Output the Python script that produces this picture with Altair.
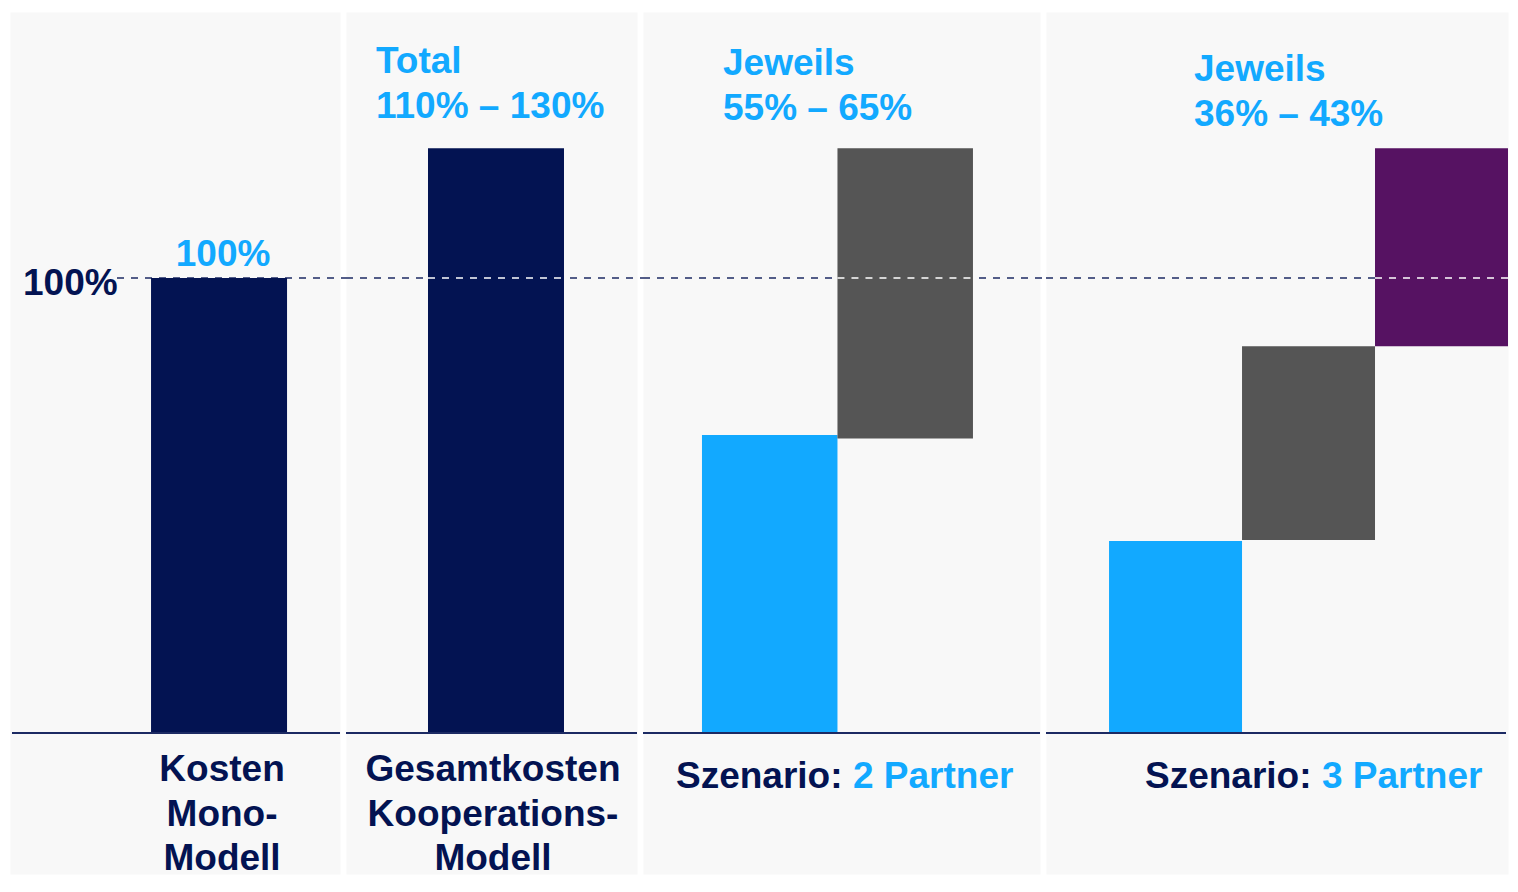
import altair as alt
import pandas as pd

# ---------------- data ----------------
bar_panel = ["mono", "koop", "p2", "p2", "p3", "p3", "p3"]
bar_key = ["Mono", "Koop", "P2-A", "P2-B", "P3-A", "P3-B", "P3-C"]
bar_series = ["Mono", "Kooperation", "Partner 1", "Partner 2", "Partner 1", "Partner 2", "Partner 3"]
bar_low = [0, 0, 0, 64.7, 0, 42.4, 85.0]
bar_high = [100, 128.5, 65.5, 128.5, 42.2, 85.0, 128.5]

reference_level = [100]
baseline_level = [0]

cat_panel = ["mono", "koop"]
cat_key = ["Mono", "Koop"]
cat_label = ["Kosten\nMono-\nModell", "Gesamtkosten\nKooperations-\nModell"]

note_head = ["Total", "Jeweils", "Jeweils"]
note_range = ["110% \u2013 130%", "55% \u2013 65%", "36% \u2013 43%"]
scenario_prefix = "Szenario:"
scenario_names = ["2 Partner", "3 Partner"]

# ---------------- styles ----------------
NAVY = "#031352"
BLUE = "#12A9FF"
GRAY = "#555555"
PURPLE = "#561262"
LINE = "#1C2A63"
BG = "#F8F8F8"
FONT = "Liberation Sans"
FS = 37
LH = 44.5

series_domain = ["Mono", "Kooperation", "Partner 1", "Partner 2", "Partner 3"]
series_range = [NAVY, NAVY, BLUE, GRAY, PURPLE]

H = 862
YDOM = [-30.99, 158.46]

df = pd.DataFrame({"panel": bar_panel, "key": bar_key, "series": bar_series,
                   "lo": bar_low, "hi": bar_high})
cats = pd.DataFrame({"panel": cat_panel, "key": cat_key, "label": cat_label})
ref_df = pd.DataFrame({"v": reference_level})
base_df = pd.DataFrame({"v": baseline_level})


def ysc():
    return alt.Scale(domain=YDOM, nice=False, zero=False)


def xscale(po, al):
    return alt.Scale(paddingInner=0, paddingOuter=po, align=al)


def panel(pid, width, po, al, dash_from, dash_to, base_from, base_to, extra):
    sc = xscale(po, al)
    base = alt.Chart(df).transform_filter(alt.datum.panel == pid)
    ref_line = alt.Chart(ref_df).mark_rule(color=LINE, strokeWidth=1.6, strokeDash=[7, 7]).encode(
        y=alt.Y("v:Q", scale=ysc(), axis=None),
        x=alt.value(dash_from), x2=alt.value(dash_to))
    bars = base.mark_bar().encode(
        x=alt.X("key:N", scale=sc, axis=None, sort=None),
        y=alt.Y("lo:Q", scale=ysc(), axis=None),
        y2="hi:Q",
        color=alt.Color("series:N", scale=alt.Scale(domain=series_domain, range=series_range), legend=None))
    over = base.transform_filter("datum.lo < 100 && datum.hi > 100").transform_calculate(
        mid="100").mark_rule(color="white", strokeWidth=1.6, strokeDash=[7, 7]).encode(
        x=alt.X("key:N", bandPosition=0, scale=sc, axis=None, sort=None),
        x2=alt.X2("key", bandPosition=1),
        y=alt.Y("mid:Q", scale=ysc(), axis=None))
    baseline = alt.Chart(base_df).mark_rule(color=LINE, strokeWidth=2).encode(
        y=alt.Y("v:Q", scale=ysc(), axis=None),
        x=alt.value(base_from), x2=alt.value(base_to))
    layers = [ref_line, bars, over, baseline] + extra(sc)
    return alt.layer(*layers).properties(width=width, height=H)


def txt(**kw):
    d = dict(font=FONT, fontSize=FS, fontWeight="bold", align="left", baseline="alphabetic",
             lineBreak="\n", lineHeight=LH)
    d.update(kw)
    return d


def note_layers(i, nx, ny):
    t1 = alt.Chart(pd.DataFrame({"t": [note_head[i]]})).mark_text(**txt(color=BLUE)).encode(
        x=alt.value(nx), y=alt.value(ny), text="t:N")
    t2 = alt.Chart(pd.DataFrame({"t": [note_range[i]]})).mark_text(**txt(color=BLUE)).encode(
        x=alt.value(nx), y=alt.value(ny + 45), text="t:N")
    return [t1, t2]


def extra_mono(sc):
    lbl = alt.Chart(df).transform_filter(alt.datum.key == "Mono").transform_calculate(
        t="format(datum.hi, 'd') + '%'").mark_text(**txt(color=BLUE, align="center", dy=-12, dx=4)).encode(
        x=alt.X("key:N", scale=sc, axis=None, sort=None),
        y=alt.Y("hi:Q", scale=ysc(), axis=None), text="t:N")
    left = alt.Chart(ref_df).transform_calculate(t="datum.v + '%'").mark_text(
        **txt(color=NAVY, dy=17)).encode(
        x=alt.value(13), y=alt.Y("v:Q", scale=ysc(), axis=None), text="t:N")
    cat = alt.Chart(cats).transform_filter(alt.datum.panel == "mono").mark_text(
        **txt(color=NAVY, align="center", dx=3)).encode(
        x=alt.X("key:N", scale=sc, axis=None, sort=None), y=alt.value(769), text="label:N")
    return [lbl, left, cat]


def extra_koop(sc):
    cat = alt.Chart(cats).transform_filter(alt.datum.panel == "koop").mark_text(
        **txt(color=NAVY, align="center", dx=-3)).encode(
        x=alt.X("key:N", scale=sc, axis=None, sort=None), y=alt.value(769), text="label:N")
    return note_layers(0, 30, 61) + [cat]


def make_scen(i, nx, ny, sx):
    def f(sc):
        pre = alt.Chart(pd.DataFrame({"t": [scenario_prefix]})).mark_text(**txt(color=NAVY)).encode(
            x=alt.value(sx), y=alt.value(776), text="t:N")
        name = alt.Chart(pd.DataFrame({"t": [scenario_names[i]]})).mark_text(**txt(color=BLUE)).encode(
            x=alt.value(sx + 177), y=alt.value(776), text="t:N")
        return note_layers(i + 1, nx, ny) + [pre, name]
    return f


P4W = 462
p1 = panel("mono", 330, 0.7132, 0.727, 107, 336, 2, 330, extra_mono)
p2 = panel("koop", 291, 0.5699, 0.529, 0, 297, 0, 291, extra_koop)
p3 = panel("p2", 397, 0.465, 0.468, 0, 403, 0, 397, make_scen(0, 80, 63, 33))
p4 = panel("p3", P4W, 0.237, 1.0, 0, P4W - 1, 0, P4W - 2, make_scen(1, 148, 69, 99))

chart = alt.hconcat(p1, p2, p3, p4, spacing=6, bounds="flush").properties(
    padding={"left": 1, "top": 3, "right": 0, "bottom": 0}
).configure(background="white").configure_view(stroke="transparent", fill=BG)

chart.save("out.html", embed_options={"renderer": "svg", "actions": False})
